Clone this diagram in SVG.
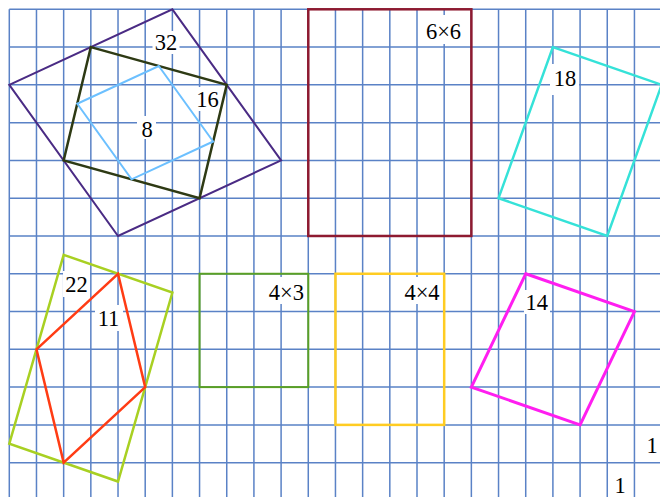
<svg xmlns="http://www.w3.org/2000/svg" width="660" height="497" viewBox="0 0 660 497">
<style>
.grid{fill:none;stroke:#5a82c6;stroke-width:1.5}
.box{fill:#ffffff;stroke:none}
.shp{fill:none;stroke-linejoin:miter}
.lbl{font-family:'Liberation Serif','DejaVu Serif',serif;font-size:22.5px;fill:#000000;text-anchor:middle}
</style>
<rect x="0" y="0" width="660" height="497" fill="#ffffff"/>
<g id="grid">
<path class="grid" d="M9.3,9.3V497 M36.48,9.3V497 M63.66,9.3V497 M90.84,9.3V497 M118.02,9.3V497 M145.2,9.3V497 M172.38,9.3V497 M199.56,9.3V497 M226.74,9.3V497 M253.92,9.3V497 M281.1,9.3V497 M308.28,9.3V497 M335.46,9.3V497 M362.64,9.3V497 M389.82,9.3V497 M417,9.3V497 M444.18,9.3V497 M471.36,9.3V497 M498.54,9.3V497 M525.72,9.3V497 M552.9,9.3V497 M580.08,9.3V497 M607.26,9.3V497 M634.44,9.3V497 M9.3,9.3H660 M9.3,47.08H660 M9.3,84.86H660 M9.3,122.64H660 M9.3,160.42H660 M9.3,198.2H660 M9.3,235.98H660 M9.3,273.76H660 M9.3,311.54H660 M9.3,349.32H660 M9.3,387.1H660 M9.3,424.88H660 M9.3,462.66H660"/>
</g>
<g id="label-boxes">
<rect class="box" x="152.5" y="31" width="27" height="23"/>
<rect class="box" x="193" y="87" width="29" height="24"/>
<rect class="box" x="137" y="116" width="19" height="23"/>
<rect class="box" x="420" y="15" width="47" height="29"/>
<rect class="box" x="264" y="277" width="42" height="27"/>
<rect class="box" x="400" y="277" width="43" height="27"/>
<rect class="box" x="550" y="64" width="29" height="31"/>
<rect class="box" x="63" y="271" width="27" height="26"/>
<rect class="box" x="95" y="305" width="28" height="26"/>
<rect class="box" x="524" y="290" width="26" height="24"/>
</g>
<g id="square-32">
<polygon class="shp" points="172.38,9.3 281.1,160.42 118.02,235.98 9.3,84.86" stroke="#4a2b84" stroke-width="2"/>
<text class="lbl" x="166" y="50">32</text>
</g>
<g id="square-16">
<polygon class="shp" points="90.84,47.08 226.74,84.86 199.56,198.2 63.66,160.42" stroke="#2e3a14" stroke-width="2.5"/>
<text class="lbl" x="207.5" y="106.5">16</text>
</g>
<g id="square-8">
<polygon class="shp" points="158.79,65.97 213.15,141.53 131.61,179.31 77.25,103.75" stroke="#6cc0ff" stroke-width="2"/>
<text class="lbl" x="147" y="136.5">8</text>
</g>
<g id="rect-6x6">
<rect class="shp" x="308.28" y="9.3" width="163.08" height="226.68" stroke="#8e1a30" stroke-width="2.5"/>
<text class="lbl" x="443.5" y="39">6×6</text>
</g>
<g id="square-18">
<polygon class="shp" points="552.9,47.08 661.62,84.86 607.26,235.98 498.54,198.2" stroke="#35e2d8" stroke-width="2.5"/>
<text class="lbl" x="565" y="85.5">18</text>
</g>
<g id="square-22">
<polygon class="shp" points="63.66,254.87 172.38,292.65 118.02,481.55 9.3,443.77" stroke="#a8d022" stroke-width="2.5"/>
<text class="lbl" x="76.5" y="292">22</text>
</g>
<g id="square-11">
<polygon class="shp" points="118.02,273.76 145.2,387.1 63.66,462.66 36.48,349.32" stroke="#ff3c14" stroke-width="2.5"/>
<text class="lbl" x="108.5" y="326">11</text>
</g>
<g id="rect-4x3">
<rect class="shp" x="199.56" y="273.76" width="108.72" height="113.34" stroke="#5aa024" stroke-width="2"/>
<text class="lbl" x="286.3" y="299.5">4×3</text>
</g>
<g id="rect-4x4">
<rect class="shp" x="335.46" y="273.76" width="108.72" height="151.12" stroke="#ffcc22" stroke-width="2.5"/>
<text class="lbl" x="422" y="299.5">4×4</text>
</g>
<g id="square-14">
<polygon class="shp" points="525.72,273.76 634.44,311.54 580.08,424.88 471.36,387.1" stroke="#ff1ef0" stroke-width="3"/>
<text class="lbl" x="536.7" y="310">14</text>
</g>
<g id="unit-labels">
<text class="lbl" x="652" y="453">1</text>
<text class="lbl" x="620" y="493">1</text>
</g>
<g id="connectors"></g>
</svg>
